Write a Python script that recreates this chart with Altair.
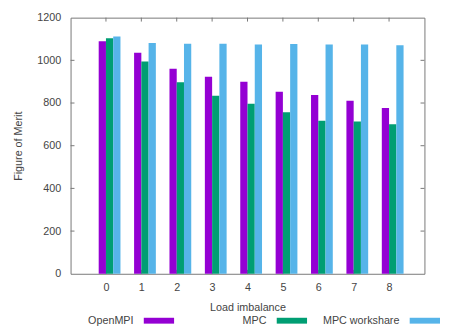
import altair as alt
import pandas as pd

# ---- data ----
loads = [0, 1, 2, 3, 4, 5, 6, 7, 8]
openmpi = [1090, 1036, 961, 923, 900, 853, 838, 811, 777]
mpc = [1103, 995, 897, 834, 797, 757, 717, 714, 700]
mpc_workshare = [1112, 1081, 1078, 1078, 1074, 1077, 1074, 1074, 1071]
series = ["OpenMPI", "MPC", "MPC workshare"]
colors = ["#9400d3", "#009e73", "#56b4e9"]
y_ticks = [0, 200, 400, 600, 800, 1000, 1200]
y_inner_ticks = [200, 400, 600, 800, 1000]

BAR_W = 0.205
FONT = "Liberation Sans"
TEXT_COLOR = "#444444"
FRAME_COLOR = "#777777"
W, H = 362, 262
TOP = 6

rows = []
for s_idx, (name, vals) in enumerate(zip(series, [openmpi, mpc, mpc_workshare])):
    for ld, v in zip(loads, vals):
        rows.append({"load": ld, "series": name, "sidx": s_idx, "value": v})
df = pd.DataFrame(rows)

xscale = alt.Scale(domain=[-1, 9], nice=False, zero=False)
yscale = alt.Scale(domain=[0, 1200], nice=False)
cscale = alt.Scale(domain=series, range=colors)

bars = alt.Chart(df).transform_calculate(
    x0=f"datum.load + (datum.sidx - 1) * {BAR_W}",
    x1=f"datum.load + datum.sidx * {BAR_W}",
).mark_rect().encode(
    x=alt.X("x0:Q", scale=xscale, title="Load imbalance",
            axis=alt.Axis(values=loads, format="d", ticks=False, tickSize=0,
                          domain=False, grid=False, labelPadding=8,
                          titlePadding=10)),
    x2="x1:Q",
    y=alt.Y("value:Q", scale=yscale, title="Figure of Merit",
            axis=alt.Axis(values=y_ticks, format="d", ticks=False, tickSize=0,
                          domain=False, grid=False, labelPadding=10,
                          titlePadding=14)),
    y2=alt.datum(0),
    color=alt.Color("series:N", scale=cscale, legend=None),
)

ytick_df = pd.DataFrame({"value": y_inner_ticks})
xtick_df = pd.DataFrame({"x0": loads})

ytick_left = alt.Chart(ytick_df).mark_rule(color=FRAME_COLOR).encode(
    y=alt.Y("value:Q", scale=yscale, title="Figure of Merit"),
    x=alt.value(0), x2=alt.value(4))
ytick_right = alt.Chart(ytick_df).mark_rule(color=FRAME_COLOR).encode(
    y=alt.Y("value:Q", scale=yscale, title="Figure of Merit"),
    x=alt.value(W - 4), x2=alt.value(W))
xtick_top = alt.Chart(xtick_df).mark_rule(color=FRAME_COLOR).encode(
    x=alt.X("x0:Q", scale=xscale, title="Load imbalance"),
    y=alt.value(0), y2=alt.value(4))
xtick_bottom = alt.Chart(xtick_df).mark_rule(color=FRAME_COLOR).encode(
    x=alt.X("x0:Q", scale=xscale, title="Load imbalance"),
    y=alt.value(H - 4), y2=alt.value(H))

plot = alt.layer(ytick_left, ytick_right, xtick_top, xtick_bottom, bars)

# ---- key below the plot (label then sample, gnuplot style) ----
key_df = pd.DataFrame({"series": series, "idx": [0, 1, 2]})
key_scale = alt.Scale(domain=[0, 2], range=[64.4, 336.4], nice=False, zero=False)

key_text = alt.Chart(key_df).mark_text(
    align="right", baseline="middle", font=FONT, fontSize=11, color=TEXT_COLOR
).encode(
    x=alt.X("idx:Q", scale=key_scale, axis=None),
    y=alt.value(H + 48),
    text="series:N",
)
key_rect = alt.Chart(key_df).transform_calculate(
    k0="datum.idx + 10.5 / 136", k1="datum.idx + 41.5 / 136"
).mark_rect().encode(
    x=alt.X("k0:Q", scale=key_scale, axis=None),
    x2="k1:Q",
    y=alt.value(H + 45), y2=alt.value(H + 51),
    color=alt.Color("series:N", scale=cscale, legend=None),
)
key = alt.layer(key_text, key_rect)

chart = alt.layer(plot, key).resolve_scale(x="independent").properties(
    width=W, height=H,
    autosize=alt.AutoSizeParams(type="none"),
    padding={"left": 64, "top": TOP, "right": 20, "bottom": 70},
).configure_view(
    stroke=FRAME_COLOR, strokeWidth=1
).configure_axis(
    labelFont=FONT, titleFont=FONT, labelFontSize=11, titleFontSize=11,
    labelColor=TEXT_COLOR, titleColor=TEXT_COLOR, titleFontWeight="normal",
)

chart.save("out.html", embed_options={"renderer": "svg", "actions": False})
